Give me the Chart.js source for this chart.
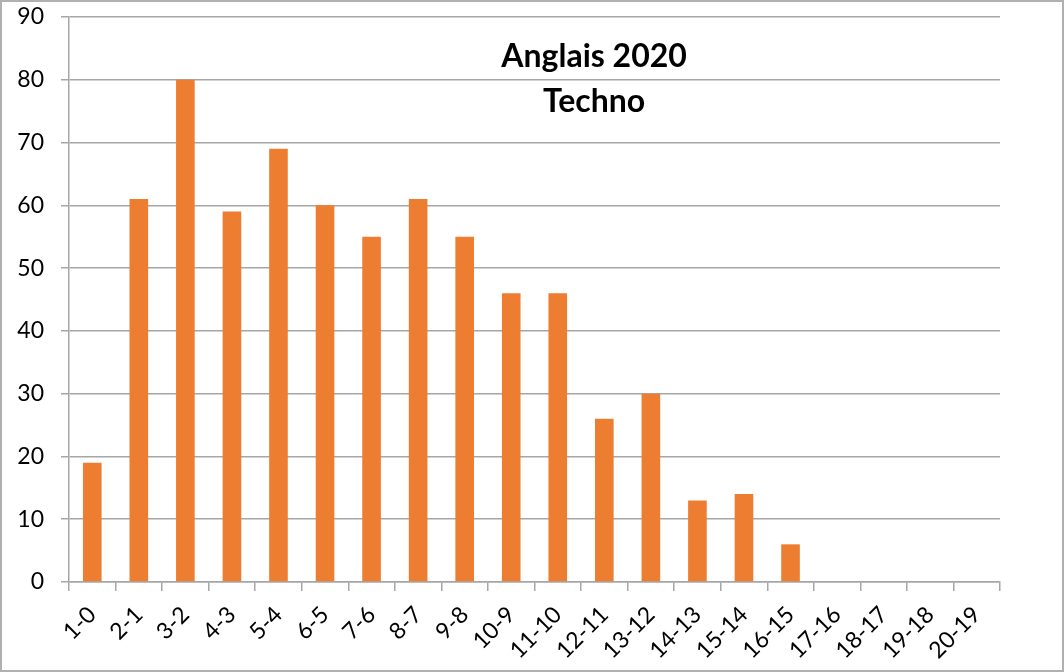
<!DOCTYPE html>
<html>
<head>
<meta charset="utf-8">
<script src="https://cdn.jsdelivr.net/npm/chart.js@4/dist/chart.umd.min.js"></script>
<style>
  html, body { margin: 0; padding: 0; background: #fff; }
  #wrap { position: relative; width: 1064px; height: 672px; }
  canvas { display: block; }
</style>
</head>
<body>
<div id="wrap"><canvas id="chart" width="1064" height="672"></canvas></div>
<script>
// Score-gap categories and counts of pupils
const categories = ["1-0","2-1","3-2","4-3","5-4","6-5","7-6","8-7","9-8","10-9","11-10","12-11","13-12","14-13","15-14","16-15","17-16","18-17","19-18","20-19"];
const counts = [19, 61, 80, 59, 69, 60, 55, 61, 55, 46, 46, 26, 30, 13, 14, 6, 0, 0, 0, 0];
const titleLines = ["Anglais 2020", "Techno"];
const yTicks = [0, 10, 20, 30, 40, 50, 60, 70, 80, 90];

const gridGray = "#a6a6a6";
const labelFont = { family: "Lato, 'Open Sans', sans-serif", size: 23 };

// Outer frame around the whole figure
const framePlugin = {
  id: "frame",
  beforeDraw(chart) {
    const ctx = chart.ctx;
    ctx.save();
    ctx.fillStyle = "#fff";
    ctx.fillRect(0, 0, chart.width, chart.height);
    ctx.strokeStyle = "#b0b0b0";
    ctx.lineWidth = 2;
    ctx.strokeRect(1, 1, chart.width - 2, chart.height - 2);
    ctx.restore();
  }
};

// Two-line heading drawn inside the plotting area
const innerTitlePlugin = {
  id: "innerTitle",
  afterDraw(chart) {
    const ctx = chart.ctx;
    const area = chart.chartArea;
    ctx.save();
    ctx.fillStyle = "#000";
    ctx.font = "bold 32px Lato, 'Open Sans', sans-serif";
    ctx.textAlign = "center";
    ctx.textBaseline = "middle";
    const cx = area.left + (area.right - area.left) * 0.564;
    ctx.fillText(titleLines[0], cx, area.top + 40);
    ctx.fillText(titleLines[1], cx, area.top + 85);
    ctx.restore();
  }
};

new Chart(document.getElementById("chart"), {
  type: "bar",
  data: {
    labels: categories,
    datasets: [{
      data: counts,
      backgroundColor: "#ED7D31",
      borderWidth: 0,
      categoryPercentage: 1.0,
      barPercentage: 0.4
    }]
  },
  options: {
    responsive: false,
    animation: false,
    layout: { padding: { left: 0, top: 17, right: 64, bottom: 0 } },
    plugins: {
      legend: { display: false },
      title: { display: false },
      tooltip: { enabled: false }
    },
    scales: {
      x: {
        offset: true,
        grid: {
          offset: true,
          drawOnChartArea: false,
          drawTicks: true,
          tickLength: 9,
          color: gridGray,
          lineWidth: 1.5
        },
        border: { color: gridGray, width: 1.5 },
        ticks: {
          color: "#000",
          font: labelFont,
          maxRotation: 45,
          minRotation: 45,
          autoSkip: false,
          padding: 10
        },
        afterFit(scale) {
          scale.height = 90;
          scale.paddingLeft = 0;
          scale.paddingRight = 0;
        }
      },
      y: {
        min: 0,
        max: 90,
        afterBuildTicks(scale) { scale.ticks = yTicks.map(v => ({ value: v })); },
        grid: {
          color: gridGray,
          lineWidth: 1.5,
          tickLength: 8
        },
        border: { color: gridGray, width: 1.5 },
        ticks: {
          color: "#000",
          font: labelFont,
          padding: 17
        },
        afterFit(scale) {
          scale.width = 69;
          scale.paddingTop = 0;
          scale.paddingBottom = 0;
        }
      }
    }
  },
  plugins: [framePlugin, innerTitlePlugin]
});
</script>
</body>
</html>
